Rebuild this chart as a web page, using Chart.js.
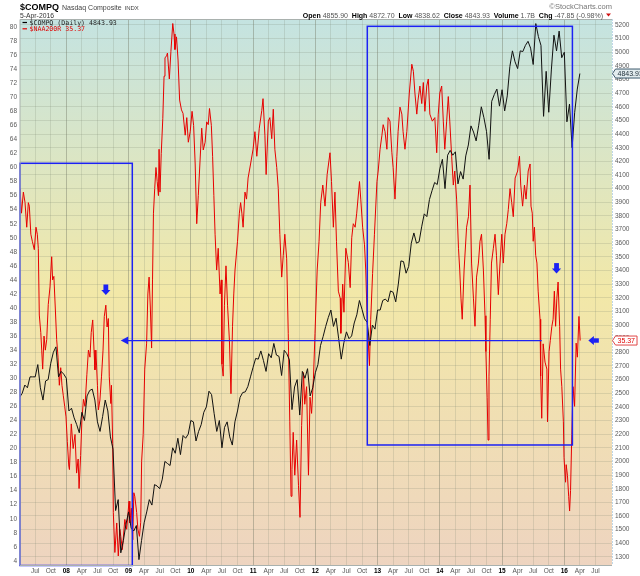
<!DOCTYPE html>
<html>
<head>
<meta charset="utf-8">
<title>$COMPQ Nasdaq Composite with $NAA200R</title>
<script src="https://cdn.jsdelivr.net/npm/chart.js@4.4.1/dist/chart.umd.min.js"></script>
<style>
  html, body { margin: 0; padding: 0; background: #fff; }
  #wrap { position: relative; width: 640px; height: 576px; }
</style>
</head>
<body>
<div id="wrap"><canvas id="chart" width="640" height="576"></canvas></div>
<script>
// ---- data ----
// $COMPQ closes, one every half month starting 1 Apr 2007 (right axis)
const compqStart = 2007.25;
const compqValues = [
  2470, 2500, 2560, 2540, 2620, 2620, 2620, 2710, 2540, 2450, 2590, 2600, 2720, 2800, 2840, 2620, 2660, 2640,
  2610, 2370, 2390, 2320, 2270, 2210, 2360, 2300, 2480, 2520, 2530, 2450, 2290, 2220, 2330, 2450, 2370, 2180, 2090, 1640, 1720, 1330, 1420, 1540,
  1630, 1510, 1490, 1530, 1280, 1420, 1550, 1630, 1720, 1680, 1830, 1820, 1800, 1870, 2000, 1985, 1970, 2100, 2060, 2170, 2050, 2190, 2170, 2200,
  2300, 2290, 2150, 2220, 2270, 2360, 2400, 2515, 2490, 2350, 2220, 2300, 2100, 2250, 2290, 2180, 2120, 2290, 2370, 2470, 2505, 2510, 2550, 2620,
  2690, 2755, 2750, 2810, 2740, 2660, 2790, 2760, 2865, 2780, 2770, 2630, 2815, 2790, 2745, 2380, 2546, 2600, 2340, 2660, 2610, 2680, 2480, 2540,
  2650, 2710, 2850, 2915, 2990, 3055, 3110, 2990, 3050, 2900, 2750, 2870, 2950, 2900, 2920, 3015, 3075, 3180, 3115, 3045, 3020, 2850, 3000, 2970,
  3110, 3110, 3180, 3190, 3170, 3250, 3240, 3170, 3300, 3470, 3465, 3380, 3430, 3600, 3675, 3600, 3610, 3720, 3815, 3795, 3920, 3985, 4045, 4030,
  4145, 4215, 4000, 4245, 4280, 4245, 4270, 4035, 4125, 4070, 4240, 4320, 4460, 4415, 4350, 4465, 4600, 4520, 4420, 4215, 4640, 4690, 4730, 4605,
  4725, 4570, 4680, 4895, 5010, 4930, 4880, 5010, 5005, 5050, 5080, 5030, 4910, 5210, 5115, 5050, 4530, 4860, 4560, 4870, 5125, 5010, 5155, 4960,
  5000, 4490, 4620, 4300, 4560, 4730, 4843.93
];

// $NAA200R readings (left axis): date as decimal year, value in %
const naaDates = [
  2007.256, 2007.28, 2007.31, 2007.337, 2007.364, 2007.39, 2007.406, 2007.43, 2007.454, 2007.486, 2007.513, 2007.534, 2007.55, 2007.566, 2007.59, 2007.605, 2007.62, 2007.642, 2007.663, 2007.685, 2007.71, 2007.738, 2007.765, 2007.78, 2007.80, 2007.823, 2007.845, 2007.867, 2007.888, 2007.91, 2007.93, 2007.952, 2007.974, 2007.995,
  2008.016, 2008.04, 2008.05, 2008.08, 2008.11, 2008.14, 2008.165, 2008.19, 2008.205, 2008.23, 2008.25, 2008.275, 2008.30, 2008.33, 2008.355, 2008.38, 2008.40, 2008.424, 2008.445, 2008.46, 2008.475, 2008.50, 2008.515, 2008.54, 2008.565, 2008.59, 2008.61, 2008.635, 2008.655, 2008.675, 2008.69, 2008.715, 2008.725, 2008.745, 2008.755, 2008.78, 2008.81, 2008.835, 2008.86, 2008.875, 2008.90, 2008.94, 2008.97,
  2009.007, 2009.02, 2009.045, 2009.067, 2009.085, 2009.10, 2009.13, 2009.15, 2009.175, 2009.195, 2009.21, 2009.235, 2009.26, 2009.29, 2009.31, 2009.33, 2009.35, 2009.37, 2009.385, 2009.40, 2009.42, 2009.44, 2009.46, 2009.48, 2009.49, 2009.505, 2009.525, 2009.55, 2009.57, 2009.585, 2009.61, 2009.625, 2009.655, 2009.68, 2009.71, 2009.73, 2009.745, 2009.77, 2009.795, 2009.82, 2009.85, 2009.875, 2009.91, 2009.935, 2009.96, 2009.99,
  2010.02, 2010.045, 2010.07, 2010.095, 2010.12, 2010.14, 2010.175, 2010.20, 2010.23, 2010.255, 2010.28, 2010.30, 2010.33, 2010.35, 2010.37, 2010.39, 2010.415, 2010.44, 2010.47, 2010.49, 2010.50, 2010.52, 2010.54, 2010.565, 2010.59, 2010.62, 2010.645, 2010.67, 2010.69, 2010.71, 2010.75, 2010.78, 2010.80, 2010.82, 2010.84, 2010.87, 2010.895, 2010.92, 2010.96,
  2011.0, 2011.03, 2011.06, 2011.10, 2011.14, 2011.16, 2011.19, 2011.21, 2011.245, 2011.27, 2011.30, 2011.325, 2011.35, 2011.38, 2011.405, 2011.43, 2011.46, 2011.485, 2011.51, 2011.54, 2011.565, 2011.59, 2011.61, 2011.625, 2011.645, 2011.67, 2011.70, 2011.73, 2011.754, 2011.78, 2011.81, 2011.83, 2011.86, 2011.89, 2011.915, 2011.94, 2011.97, 2011.995,
  2012.03, 2012.06, 2012.087, 2012.12, 2012.156, 2012.19, 2012.236, 2012.26, 2012.29, 2012.315, 2012.34, 2012.37, 2012.40, 2012.41, 2012.44, 2012.46, 2012.49, 2012.53, 2012.56, 2012.585, 2012.61, 2012.64, 2012.665, 2012.71, 2012.73, 2012.76, 2012.79, 2012.81, 2012.835, 2012.87, 2012.89, 2012.92, 2012.95, 2012.99,
  2013.01, 2013.04, 2013.07, 2013.09, 2013.12, 2013.15, 2013.17, 2013.20, 2013.23, 2013.25, 2013.28, 2013.31, 2013.33, 2013.36, 2013.39, 2013.41, 2013.44, 2013.47, 2013.51, 2013.55, 2013.575, 2013.60, 2013.63, 2013.65, 2013.68, 2013.71, 2013.735, 2013.76, 2013.79, 2013.815, 2013.84, 2013.88, 2013.92, 2013.95, 2013.975,
  2014.0, 2014.03, 2014.056, 2014.08, 2014.11, 2014.136, 2014.16, 2014.19, 2014.217, 2014.24, 2014.27, 2014.30, 2014.32, 2014.34, 2014.36, 2014.39, 2014.43, 2014.46, 2014.485, 2014.51, 2014.54, 2014.565, 2014.59, 2014.62, 2014.646, 2014.67, 2014.70, 2014.726, 2014.74, 2014.76, 2014.775, 2014.79, 2014.81, 2014.83, 2014.86, 2014.887, 2014.91, 2014.94, 2014.967, 2014.995,
  2015.02, 2015.047, 2015.075, 2015.10, 2015.128, 2015.155, 2015.18, 2015.21, 2015.25, 2015.28, 2015.30, 2015.33, 2015.36, 2015.385, 2015.42, 2015.45, 2015.465, 2015.485, 2015.50, 2015.52, 2015.54, 2015.56, 2015.58, 2015.61, 2015.62, 2015.637, 2015.66, 2015.69, 2015.72, 2015.73, 2015.755, 2015.775, 2015.80, 2015.82, 2015.84, 2015.86, 2015.88, 2015.90, 2015.925, 2015.94, 2015.96, 2015.985, 2015.995,
  2016.02, 2016.03, 2016.05, 2016.07, 2016.085, 2016.10, 2016.12, 2016.14, 2016.165, 2016.19, 2016.21, 2016.235, 2016.255
];
const naaValues = [
  57, 53.5, 56.5, 55, 51.5, 55, 54.5, 50.5, 49.5, 48.3, 51.5, 50.5, 48.5, 39, 36.5, 34, 31.3, 36, 34, 35.5, 40.5, 43, 47.3, 44, 44.5, 40, 35.5, 33, 29, 31.5, 29, 27.5, 26, 24.5,
  21, 17.5, 17, 23.5, 20, 22, 16.5, 18.5, 14.3, 19, 24, 27, 26, 30.5, 34, 33, 36.5, 38.3, 34, 31.2, 34, 29, 25.5, 26.9, 30.2, 34, 38.8, 40.4, 37.3, 38.5, 30.2, 26.4, 29, 20.7, 10.9, 5.2, 9.4, 4.7, 8.5, 7.5, 5.6, 9.9, 8.5,
  12.5, 9.4, 11.5, 7, 13.7, 13.2, 10.9, 8.5, 7.5, 9.5, 18.2, 22, 31.3, 35, 42, 44.4, 40, 34.3, 44, 53.5, 57, 60, 58, 56, 62.6, 56.5, 62, 67, 73, 75.6, 75.9, 76.3, 72.6, 76.5, 80.5, 79, 76.8, 78.6, 75.3, 69.6, 68.2, 67.7, 64.6, 67.1, 63.6, 65.1,
  68, 66, 60.5, 52, 56, 59.5, 65.6, 62.5, 63.6, 66.5, 66.1, 68.4, 66, 61.6, 56, 50.5, 45.4, 48.5, 42, 44, 32, 30.3, 40.4, 46, 40.4, 35.4, 27.8, 37.4, 42, 45.4, 49.5, 53.5, 55, 53.5, 51.5, 56.5, 55.5, 58.5, 60.5,
  62.6, 65.1, 61.6, 65.6, 68.1, 69.8, 64.6, 59, 66.6, 67.1, 64.1, 68.3, 62.6, 60, 57, 50.5, 44.4, 47.5, 50.5, 47, 36.4, 23.8, 13.2, 17, 22.3, 16.2, 21.2, 14.7, 10.2, 23.3, 30.8, 26.3, 28.8, 16.2, 27.3, 25, 30, 36.4,
  45.4, 49.5, 55, 57.5, 54.5, 59, 62.1, 58, 51.5, 56.5, 49.5, 42.4, 41.4, 36.4, 43.4, 39.4, 48.5, 46.5, 42.9, 50, 52, 51.5, 53.5, 58, 55.5, 51.5, 49, 45.4, 37.9, 31.8, 38.4, 44.9, 50.5, 58,
  59.5, 62.6, 64.6, 66.1, 65.1, 62.6, 67.1, 66.6, 62.1, 60, 55.5, 61.6, 65.1, 68.6, 67.6, 65.1, 62.6, 65.1, 70.6, 74.7, 73.7, 70.6, 67.6, 69.6, 71.6, 69.1, 72.1, 68, 71.6, 72.6, 67.6, 66.6, 67.1, 62.1, 67.6,
  70.6, 71.6, 66.6, 62.6, 66.6, 70.1, 66.6, 61.6, 57.5, 59.5, 55.5, 48.5, 45.4, 41.4, 38.4, 45.4, 51.5, 53, 57.5, 46.4, 41.4, 37.4, 44.4, 46.4, 49.5, 50.5, 45.4, 38.9, 33.8, 27.3, 21.2, 30.3, 38.4, 46.4, 48.5, 50.5, 47.5, 41.9, 46.4, 50.5,
  46.4, 50.5, 52, 54, 57, 55, 53, 58.5, 59.5, 61.6, 57.5, 54.5, 57.5, 55.5, 59.5, 60.5, 54.5, 53.5, 49.5, 51.5, 47.5, 46.4, 42.4, 38.4, 30.3, 24.3, 34.9, 32.3, 31.3, 23.8, 33.8, 35.4, 37.4, 38.4, 42.4, 37.4, 41.4, 43.7, 37.4, 31.3, 28.8, 23.8, 18.7,
  15.2, 17.7, 16.2, 13.2, 11.1, 14, 22, 28.8, 26, 35, 33, 38.8, 35.37
];

const lastClose = 4843.93;
const lastNaa = 35.37;
const quoteLine = [
  ['Open ', true], ['4855.90  ', false], ['High ', true], ['4872.70  ', false], ['Low ', true], ['4838.62  ', false],
  ['Close ', true], ['4843.93  ', false], ['Volume ', true], ['1.7B  ', false], ['Chg ', true], ['-47.85 (-0.98%) ', false]
];

// axis ranges and tick positions
const xRange = [2007.256, 2016.766];
const naaRange = [3.345, 81.07];
const compqRange = [1237, 5240];
const quarterNames = ['', 'Apr', 'Jul', 'Oct'];
const quarterTicks = [];
for (let q = 2007.5; q <= 2016.5; q += 0.25) quarterTicks.push(q);
const naaTicks = [];
for (let v = 4; v <= 80; v += 2) naaTicks.push(v);
const compqTicks = [];
for (let p = 1300; p <= 5200; p += 100) compqTicks.push(p);

// hand-drawn markup, in data units (decimal year, left-axis %)
const markBoxes = [
  { from: 2007.256, to: 2009.06, low: 3.345, high: 60.6 },
  { from: 2012.835, to: 2016.13, low: 20.5, high: 80.1 }
];
const levelLine = { value: 35.37, from: 2008.874, to: 2015.637 };
const downArrows = [{ t: 2008.635, v: 41.85 }, { t: 2015.875, v: 44.9 }];
const sideArrow = { t: 2016.386, v: 35.37 };

// ---- drawing ----
const FONT = '"Liberation Sans", Arial, sans-serif';
const MONO = '"DejaVu Sans Mono", "Liberation Mono", monospace';
const BLUE = '#1c22f4';

const backdrop = {
  id: 'backdrop',
  beforeDraw(chart) {
    const { ctx, chartArea: a, width, height } = chart;
    ctx.save();
    ctx.fillStyle = '#ffffff';
    ctx.fillRect(0, 0, width, height);
    const g = ctx.createLinearGradient(0, a.top, 0, a.bottom);
    g.addColorStop(0, '#c4e3e1');
    g.addColorStop(0.5, '#f2e8a8');
    g.addColorStop(1, '#eed4c0');
    ctx.fillStyle = g;
    ctx.fillRect(a.left, a.top, a.right - a.left, a.bottom - a.top);
    ctx.restore();
  }
};

const markup = {
  id: 'markup',
  afterDatasetsDraw(chart) {
    const { ctx, scales: { x, yL } } = chart;
    ctx.save();
    ctx.strokeStyle = BLUE;
    ctx.fillStyle = BLUE;

    ctx.lineWidth = 1.5;
    markBoxes.forEach(b => {
      const x0 = x.getPixelForValue(b.from), x1 = x.getPixelForValue(b.to);
      const y0 = yL.getPixelForValue(b.high), y1 = yL.getPixelForValue(b.low);
      ctx.strokeRect(x0, y0, x1 - x0, y1 - y0);
    });

    // level line with its arrow head
    const ly = yL.getPixelForValue(levelLine.value);
    const lx0 = x.getPixelForValue(levelLine.from);
    const lx1 = x.getPixelForValue(levelLine.to);
    ctx.lineWidth = 1.2;
    ctx.beginPath();
    ctx.moveTo(lx0 + 6, ly);
    ctx.lineTo(lx1, ly);
    ctx.stroke();
    ctx.beginPath();
    ctx.moveTo(lx0, ly);
    ctx.lineTo(lx0 + 7.5, ly - 4);
    ctx.lineTo(lx0 + 7.5, ly + 4);
    ctx.closePath();
    ctx.fill();

    // block arrow on the right, pointing left
    const sx = x.getPixelForValue(sideArrow.t), sy = yL.getPixelForValue(sideArrow.v);
    ctx.beginPath();
    ctx.moveTo(sx, sy);
    ctx.lineTo(sx + 5.5, sy - 4.5);
    ctx.lineTo(sx + 5.5, sy + 4.5);
    ctx.closePath();
    ctx.fill();
    ctx.fillRect(sx + 5, sy - 2.2, 5.5, 4.4);

    // block arrows pointing down
    downArrows.forEach(a => {
      const ax = x.getPixelForValue(a.t), ay = yL.getPixelForValue(a.v);
      ctx.fillRect(ax - 2.4, ay - 10.5, 4.8, 6);
      ctx.beginPath();
      ctx.moveTo(ax - 4.6, ay - 5);
      ctx.lineTo(ax + 4.6, ay - 5);
      ctx.lineTo(ax, ay);
      ctx.closePath();
      ctx.fill();
    });
    ctx.restore();
  }
};

function valueTag(ctx, x, y, text, stroke, fill, color) {
  ctx.font = '7px ' + FONT;
  const w = ctx.measureText(text).width + 4;
  ctx.beginPath();
  ctx.moveTo(x, y);
  ctx.lineTo(x + 3, y - 4.5);
  ctx.lineTo(x + 3 + w, y - 4.5);
  ctx.lineTo(x + 3 + w, y + 4.5);
  ctx.lineTo(x + 3, y + 4.5);
  ctx.closePath();
  ctx.fillStyle = fill;
  ctx.fill();
  ctx.strokeStyle = stroke;
  ctx.lineWidth = 1;
  ctx.stroke();
  ctx.fillStyle = color;
  ctx.textAlign = 'left';
  ctx.textBaseline = 'middle';
  ctx.fillText(text, x + 5, y + 0.5);
}

const captions = {
  id: 'captions',
  afterDraw(chart) {
    const { ctx, chartArea: a, scales: { yL, yR } } = chart;
    ctx.save();

    // plot frame
    ctx.strokeStyle = '#a9b1ae';
    ctx.lineWidth = 1;
    ctx.beginPath();
    ctx.moveTo(a.left, a.bottom);
    ctx.lineTo(a.left, a.top);
    ctx.lineTo(a.right, a.top);
    ctx.moveTo(a.left, a.bottom);
    ctx.lineTo(a.right, a.bottom);
    ctx.stroke();
    ctx.strokeStyle = '#7eaed0';
    ctx.setLineDash([1, 2]);
    ctx.beginPath();
    ctx.moveTo(a.right + 0.5, a.top);
    ctx.lineTo(a.right + 0.5, a.bottom);
    ctx.stroke();
    ctx.setLineDash([]);

    // header, left
    ctx.textAlign = 'left';
    ctx.textBaseline = 'alphabetic';
    ctx.fillStyle = '#000';
    ctx.font = 'bold 9px ' + FONT;
    ctx.fillText('$COMPQ', 20, 10);
    let hx = 20 + ctx.measureText('$COMPQ').width + 3;
    ctx.fillStyle = '#444';
    ctx.font = '7px ' + FONT;
    ctx.fillText('Nasdaq Composite', hx, 10);
    hx += ctx.measureText('Nasdaq Composite').width + 3;
    ctx.font = '6px ' + FONT;
    ctx.fillText('INDX', hx, 10);
    ctx.fillStyle = '#333';
    ctx.font = '6.8px ' + FONT;
    ctx.fillText('5-Apr-2016', 20, 17.5);

    // header, right
    ctx.textAlign = 'right';
    ctx.fillStyle = '#777';
    ctx.font = '7.5px ' + FONT;
    ctx.fillText('\u00a9StockCharts.com', 612, 8.5);

    ctx.textAlign = 'left';
    let total = 0;
    quoteLine.forEach(([s, bold]) => {
      ctx.font = (bold ? 'bold ' : '') + '7px ' + FONT;
      total += ctx.measureText(s).width;
    });
    let qx = 605 - total;
    quoteLine.forEach(([s, bold]) => {
      ctx.font = (bold ? 'bold ' : '') + '7px ' + FONT;
      ctx.fillStyle = bold ? '#000' : '#555';
      ctx.fillText(s, qx, 17.5);
      qx += ctx.measureText(s).width;
    });
    ctx.fillStyle = '#d01010';
    ctx.beginPath();
    ctx.moveTo(qx + 1, 13.5);
    ctx.lineTo(qx + 6, 13.5);
    ctx.lineTo(qx + 3.5, 16.5);
    ctx.closePath();
    ctx.fill();

    // legend inside the plot
    ctx.font = '6.6px ' + MONO;
    ctx.lineWidth = 1.2;
    ctx.strokeStyle = '#000';
    ctx.beginPath(); ctx.moveTo(22.5, 22.5); ctx.lineTo(27, 22.5); ctx.stroke();
    ctx.fillStyle = '#222';
    ctx.fillText('$COMPQ (Daily) ' + lastClose.toFixed(2), 29.5, 25);
    ctx.strokeStyle = '#e00000';
    ctx.beginPath(); ctx.moveTo(22.5, 28.8); ctx.lineTo(27, 28.8); ctx.stroke();
    ctx.fillStyle = '#e00000';
    ctx.fillText('$NAA200R ' + lastNaa.toFixed(2), 29.5, 31.3);

    // last-value tags on the right axis
    valueTag(ctx, a.right + 0.5, yR.getPixelForValue(lastClose), lastClose.toFixed(2), '#3d5a6c', '#e3ecef', '#1b2b36');
    valueTag(ctx, a.right + 0.5, yL.getPixelForValue(lastNaa), lastNaa.toFixed(2), '#e04848', '#ffffff', '#e00000');
    ctx.restore();
  }
};

const tickFont = { family: FONT, size: 6.5 };

new Chart(document.getElementById('chart'), {
  type: 'line',
  data: {
    datasets: [
      {
        label: '$COMPQ (Daily)',
        data: compqValues.map((v, i) => ({ x: compqStart + i / 24, y: v })),
        yAxisID: 'yR',
        borderColor: '#111111',
        borderWidth: 1,
        pointRadius: 0,
        tension: 0,
        order: 1
      },
      {
        label: '$NAA200R',
        data: naaDates.map((t, i) => ({ x: t, y: naaValues[i] })),
        yAxisID: 'yL',
        borderColor: '#e60000',
        borderWidth: 1,
        pointRadius: 0,
        tension: 0,
        order: 2
      }
    ]
  },
  options: {
    responsive: false,
    animation: false,
    events: [],
    layout: { padding: { top: 19.5, left: 0, right: 0, bottom: 0 } },
    plugins: { legend: { display: false }, tooltip: { enabled: false } },
    scales: {
      x: {
        type: 'linear',
        min: xRange[0],
        max: xRange[1],
        afterBuildTicks: (axis) => { axis.ticks = quarterTicks.map(v => ({ value: v })); },
        afterFit: (axis) => { axis.height = 10.5; },
        border: { display: false },
        grid: {
          drawTicks: false,
          color: (c) => (c.tick && c.tick.value % 1 === 0) ? 'rgba(115,118,100,0.42)' : 'rgba(120,130,110,0.2)'
        },
        ticks: {
          autoSkip: false,
          maxRotation: 0,
          minRotation: 0,
          padding: 1.5,
          font: (c) => ({ family: FONT, size: 6.5, weight: (c.tick && c.tick.value % 1 === 0) ? 'bold' : 'normal' }),
          color: (c) => (c.tick && c.tick.value % 1 === 0) ? '#000' : '#555',
          callback: (value) => {
            const year = Math.floor(value);
            const q = Math.round((value - year) * 4);
            return q === 0 ? String(year % 100).padStart(2, '0') : quarterNames[q];
          }
        }
      },
      yL: {
        type: 'linear',
        position: 'left',
        min: naaRange[0],
        max: naaRange[1],
        afterBuildTicks: (axis) => { axis.ticks = naaTicks.map(v => ({ value: v })); },
        afterFit: (axis) => { axis.width = 20; },
        border: { display: false },
        grid: { display: false, drawTicks: false },
        ticks: { autoSkip: false, padding: 3, font: tickFont, color: '#5a5a5a', callback: (v) => String(v) }
      },
      yR: {
        type: 'linear',
        position: 'right',
        min: compqRange[0],
        max: compqRange[1],
        afterBuildTicks: (axis) => { axis.ticks = compqTicks.map(v => ({ value: v })); },
        afterFit: (axis) => { axis.width = 28; },
        border: { display: false },
        grid: { drawTicks: false, color: 'rgba(120,130,110,0.2)' },
        ticks: { autoSkip: false, padding: 3, font: tickFont, color: '#5a5a5a', callback: (v) => String(v) }
      }
    }
  },
  plugins: [backdrop, markup, captions]
});
</script>
</body>
</html>
